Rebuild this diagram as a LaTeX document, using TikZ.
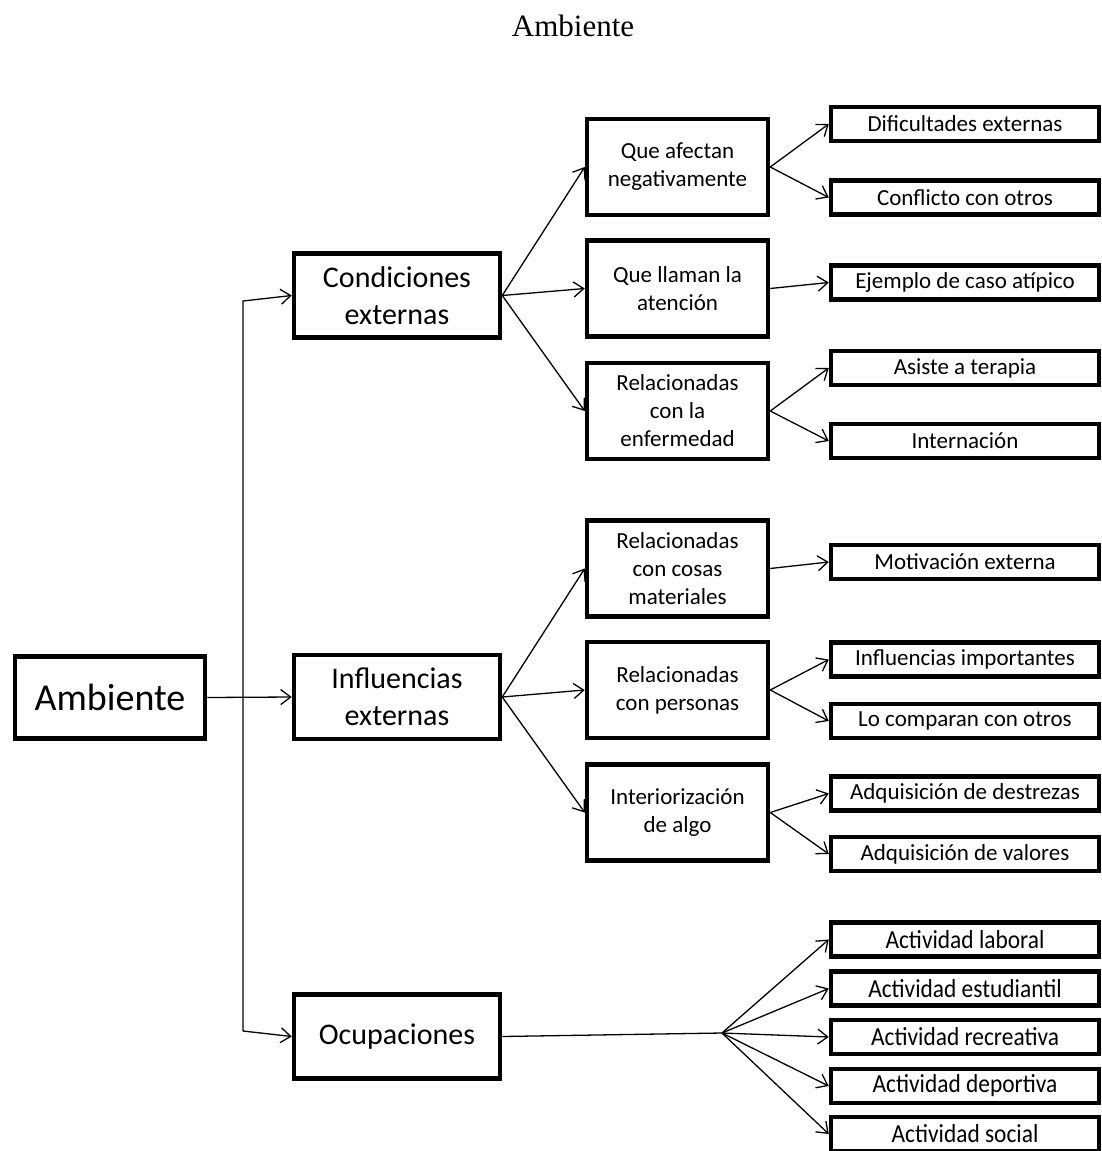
\documentclass[tikz,border=0pt]{standalone}
\usepackage{fontspec}
\setmainfont{Carlito}
\newfontfamily\titlefont{Liberation Serif}
\newfontfamily\condfont[FakeStretch=0.9]{Carlito}
\usetikzlibrary{arrows.meta}
\begin{document}
\begin{tikzpicture}[x=1pt,y=-1pt,
 box/.style={draw, line width=4.5pt, inner sep=0pt, align=center, text=black},
 lzero/.style={box, minimum width=190pt, minimum height=82pt, font=\fontsize{38}{46}\selectfont},
 lone/.style={box, minimum width=206pt, minimum height=84pt, font=\fontsize{30}{37}\selectfont},
 ltwo/.style={box, minimum width=181pt, minimum height=96pt, font=\fontsize{23}{28}\selectfont},
 lthree/.style={box, minimum width=268pt, minimum height=34pt, font=\fontsize{23}{28}\selectfont},
 lthreec/.style={lthree, font=\condfont\fontsize{26}{30}\selectfont},
 arr/.style={line width=1.3pt, -{Straight Barb[length=10pt,width=15pt]}},
 ln/.style={line width=1.3pt}]
\useasboundingbox (0,0) rectangle (1102,1151);
\node[font=\titlefont\fontsize{31}{36}\selectfont, anchor=base] (title) at (573,36) {Ambiente};
% level 0 and 1
\node[lzero] (amb) at (110,697.5) {Ambiente};
\node[lone] (ce) at (397,295.5) {Condiciones\\externas};
\node[lone] (ie) at (397,697) {Influencias\\externas};
\node[lone] (oc) at (397,1036.5) {Ocupaciones};
% level 2
\node[ltwo] (qa) at (677.5,167) {Que afectan\\negativamente};
\node[ltwo] (ql) at (677.5,288.5) {Que llaman la\\atención};
\node[ltwo] (re) at (677.5,411) {Relacionadas\\con la\\enfermedad};
\node[ltwo] (rm) at (677.5,568.5) {Relacionadas\\con cosas\\materiales};
\node[ltwo] (rp) at (677.5,690) {Relacionadas\\con personas};
\node[ltwo] (ia) at (677.5,812.5) {Interiorización\\de algo};
% level 3
\node[lthree] (de) at (965,124) {Dificultades externas};
\node[lthree] (co) at (965,197.5) {Conflicto con otros};
\node[lthree] (ej) at (965,282.5) {Ejemplo de caso atípico};
\node[lthree] (at) at (965,368) {Asiste a terapia};
\node[lthree] (in) at (965,441) {Internación};
\node[lthree] (mo) at (965,562) {Motivación externa};
\node[lthree] (ii) at (965,659.5) {Influencias importantes};
\node[lthree] (lc) at (965,721) {Lo comparan con otros};
\node[lthree] (ad) at (965,793.5) {Adquisición de destrezas};
\node[lthree] (av) at (965,854) {Adquisición de valores};
\node[lthreec] (al) at (965,939.5) {Actividad laboral};
\node[lthreec] (aes) at (965,988.5) {Actividad estudiantil};
\node[lthreec] (ar) at (965,1037) {Actividad recreativa};
\node[lthreec] (adp) at (965,1086) {Actividad deportiva};
\node[lthreec] (as) at (965,1134) {Actividad social};
% connectors
\coordinate (tA) at (243,301);
\coordinate (tB) at (243,1031);
\coordinate (fan) at (722,1033);
\draw[arr] (tB) -- (tA) -- (ce.west);
\draw[arr] (tB) -- (oc.west);
\draw[arr] (amb.east) -- (ie.west);
\foreach \s/\t in {ce/qa, ce/ql, ce/re, ie/rm, ie/rp, ie/ia,
  qa/de, qa/co, ql/ej, re/at, re/in, rm/mo, rp/ii, rp/lc, ia/ad, ia/av}
  \draw[arr] (\s.east) -- (\t.west);
\draw[ln] (oc.east) -- (fan);
\foreach \t in {al, aes, ar, adp, as}
  \draw[arr] (fan) -- (\t.west);
\end{tikzpicture}
\end{document}
